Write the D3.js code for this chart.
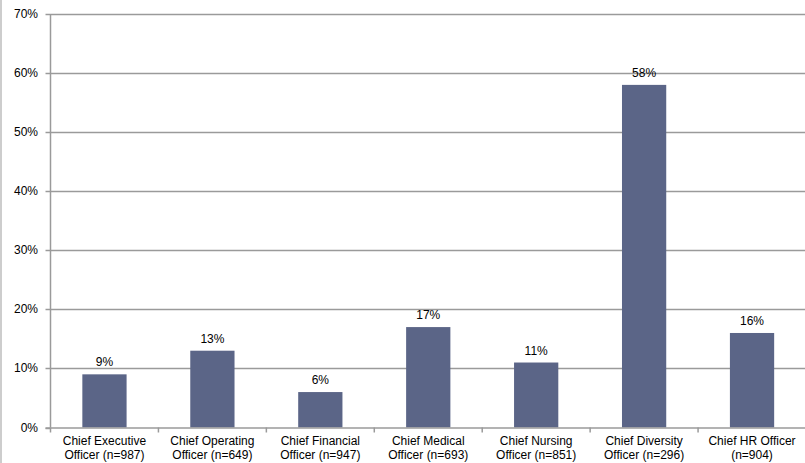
<!DOCTYPE html>
<html><head><meta charset="utf-8">
<script src="https://cdn.jsdelivr.net/npm/d3@7"></script>
<style>body{margin:0;background:#fff}svg{display:block;font-family:"Liberation Sans",Arial,sans-serif}</style>
</head><body><svg id="c" width="805" height="463"></svg>
<script>
const categories = [
  ["Chief Executive","Officer (n=987)"],
  ["Chief Operating","Officer (n=649)"],
  ["Chief Financial","Officer (n=947)"],
  ["Chief Medical","Officer (n=693)"],
  ["Chief Nursing","Officer (n=851)"],
  ["Chief Diversity","Officer (n=296)"],
  ["Chief HR Officer","(n=904)"]
];
const values = [9, 13, 6, 17, 11, 58, 16];
const yTicks = [0, 10, 20, 30, 40, 50, 60, 70];

(function(){
const svg = d3.select("#c");
const pL = 50.5, pR = 806, pT = 14, pB = 427.5;
const x = d3.scaleBand().domain(d3.range(categories.length)).range([pL, pR]).paddingInner(0.59).paddingOuter(0.295);
const xb = d3.scaleBand().domain(d3.range(categories.length)).range([pL, pR]);
const y = d3.scaleLinear().domain([0, 70]).range([pB, pT]);
const grid = "#9a9a9a";

svg.append("line").attr("x1",1).attr("x2",1).attr("y1",0).attr("y2",463).attr("stroke","#bdbdbd").attr("stroke-width",1.5);

svg.append("g").selectAll("line").data(yTicks.filter(d=>d>0)).join("line")
  .attr("x1", pL).attr("x2", 805).attr("y1", d=>Math.round(y(d))+0.5).attr("y2", d=>Math.round(y(d))+0.5)
  .attr("stroke", grid).attr("stroke-width", 1.5);

svg.append("g").selectAll("rect").data(values).join("rect")
  .attr("x", (d,i)=>x(i)).attr("width", x.bandwidth())
  .attr("y", d=>y(d)).attr("height", d=>pB - y(d))
  .attr("fill", "#5b6587");

svg.append("g").selectAll("text").data(values).join("text")
  .attr("x", (d,i)=>x(i)+x.bandwidth()/2).attr("y", d=>y(d)-8)
  .attr("text-anchor","middle").attr("font-size",12).attr("fill","#000")
  .text(d=>d+"%");

const ya = svg.append("g");
ya.append("line").attr("x1",pL).attr("x2",pL).attr("y1",pT).attr("y2",pB).attr("stroke",grid).attr("stroke-width",1.5);
ya.selectAll("line.t").data(yTicks).join("line").attr("class","t")
  .attr("x1",pL-5).attr("x2",pL).attr("y1",d=>Math.round(y(d))+0.5).attr("y2",d=>Math.round(y(d))+0.5)
  .attr("stroke",grid).attr("stroke-width",1.5);
ya.selectAll("text").data(yTicks).join("text")
  .attr("x", 38).attr("y", d=>y(d)+4).attr("text-anchor","end").attr("font-size",12).attr("fill","#000")
  .text(d=>d+"%");

const xa = svg.append("g");
xa.append("line").attr("x1",pL-5).attr("x2",805).attr("y1",pB+0.5).attr("y2",pB+0.5).attr("stroke",grid).attr("stroke-width",1.5);
xa.selectAll("line.t").data(d3.range(categories.length+1)).join("line").attr("class","t")
  .attr("x1",i=>pL+i*xb.bandwidth()).attr("x2",i=>pL+i*xb.bandwidth())
  .attr("y1",pB).attr("y2",pB+5).attr("stroke",grid).attr("stroke-width",1.5);
const lab = xa.selectAll("text").data(categories).join("text")
  .attr("text-anchor","middle").attr("font-size",12).attr("fill","#000");
lab.selectAll("tspan").data((d,i)=>d.map(s=>({s,i}))).join("tspan")
  .attr("x", d=>xb(d.i)+xb.bandwidth()/2).attr("y",(d,j)=>pB+17+j*14)
  .text(d=>d.s);
})();
</script></body></html>
